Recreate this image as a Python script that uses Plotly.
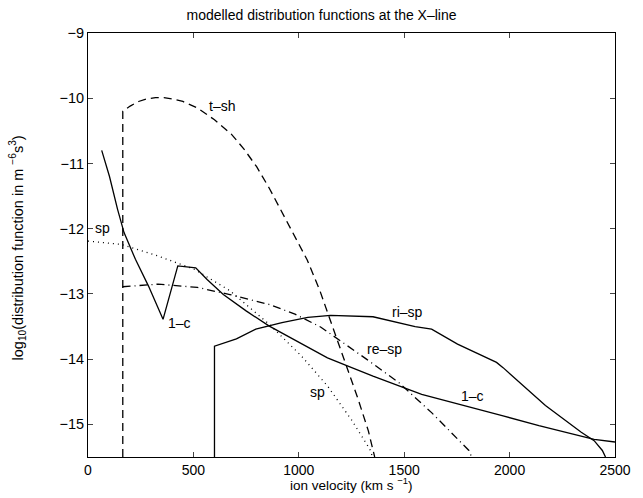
import plotly.graph_objects as go

# t-sh (dashed)
tsh_x = [165, 165, 200, 240, 280, 320, 360, 400, 450, 520, 600, 680, 740, 800, 860, 920, 980, 1040, 1100, 1160, 1220, 1280, 1330, 1360]
tsh_y = [-15.5, -10.2, -10.12, -10.05, -10.01, -9.99, -9.99, -10.01, -10.05, -10.15, -10.33, -10.55, -10.78, -11.05, -11.38, -11.75, -12.12, -12.48, -12.95, -13.5, -14.05, -14.6, -15.1, -15.5]

# 1-c (solid)
c1_x = [65, 102, 140, 171, 225, 287, 356, 426, 511, 565, 642, 750, 858, 997, 1136, 1260, 1352, 1583, 1846, 1969, 2139, 2401, 2500]
c1_y = [-10.8, -11.2, -11.7, -12.06, -12.47, -12.88, -13.39, -12.57, -12.6, -12.78, -13.01, -13.26, -13.49, -13.74, -13.98, -14.14, -14.26, -14.54, -14.76, -14.87, -15.02, -15.23, -15.27]

# sp (dotted)
sp_x = [0, 156, 333, 503, 673, 858, 1012, 1136, 1252, 1337, 1350]
sp_y = [-12.19, -12.24, -12.42, -12.62, -12.95, -13.46, -13.95, -14.41, -14.94, -15.38, -15.5]

# re-sp (dash-dot)
resp_x = [164, 333, 519, 673, 858, 982, 1105, 1198, 1321, 1475, 1630, 1807, 1820]
resp_y = [-12.89, -12.85, -12.9, -13.01, -13.16, -13.31, -13.51, -13.72, -14.0, -14.36, -14.82, -15.4, -15.5]

# ri-sp (solid)
risp_x = [600, 600, 704, 796, 920, 1043, 1151, 1352, 1552, 1630, 1753, 1938, 1969, 2170, 2340, 2401, 2440, 2455]
risp_y = [-15.5, -13.8, -13.69, -13.54, -13.44, -13.36, -13.33, -13.35, -13.5, -13.54, -13.77, -14.05, -14.13, -14.71, -15.12, -15.25, -15.4, -15.5]

lab_text = ["t\u2013sh", "1\u2013c", "sp", "sp", "ri\u2013sp", "re\u2013sp", "1\u2013c"]
lab_x = [634, 434, 71, 1089, 1514, 1406, 1823]
lab_y = [-10.12, -13.44, -11.99, -14.51, -13.28, -13.84, -14.56]

ytick_vals = [-9, -10, -11, -12, -13, -14, -15]
ytick_text = ["\u22129", "\u221210", "\u221211", "\u221212", "\u221213", "\u221214", "\u221215"]
xtick_vals = [0, 500, 1000, 1500, 2000, 2500]

title_text = "modelled distribution functions at the X\u2013line"
xlabel = "ion velocity (km s <sup>\u22121</sup>)"
ylabel = "log<sub>10</sub>(distribution function in m <sup>\u22126</sup>s<sup>3</sup>)"

fig = go.Figure()
lw = 1.3
fig.add_trace(go.Scatter(x=tsh_x, y=tsh_y, mode="lines", line=dict(color="black", width=lw, dash="8px,5px")))
fig.add_trace(go.Scatter(x=c1_x, y=c1_y, mode="lines", line=dict(color="black", width=lw)))
fig.add_trace(go.Scatter(x=sp_x, y=sp_y, mode="lines", line=dict(color="black", width=lw, dash="1px,4px")))
fig.add_trace(go.Scatter(x=resp_x, y=resp_y, mode="lines", line=dict(color="black", width=lw, dash="8px,4px,1px,4px")))
fig.add_trace(go.Scatter(x=risp_x, y=risp_y, mode="lines", line=dict(color="black", width=lw)))

for t, x, y in zip(lab_text, lab_x, lab_y):
    fig.add_annotation(x=x, y=y, text=t, showarrow=False, font=dict(size=14, color="#000000"))

# axis titles placed as paper annotations
plot_w, plot_h = 538, 424
fig.add_annotation(xref="paper", yref="paper", x=0.5, y=(457 - 484) / plot_h, text=xlabel,
                   showarrow=False, xanchor="center", yanchor="middle", font=dict(size=13.5))
fig.add_annotation(xref="paper", yref="paper", x=(16 - 88) / plot_w, y=(457 - 248) / plot_h, text=ylabel,
                   showarrow=False, textangle=-90, xanchor="center", yanchor="middle", font=dict(size=14.5))

font = "Liberation Sans, Arial, sans-serif"
fig.update_layout(
    width=643, height=498,
    margin=dict(l=88, r=17, t=33, b=41),
    paper_bgcolor="white", plot_bgcolor="white",
    showlegend=False,
    font=dict(family=font, size=14, color="black"),
    title=dict(text=title_text, x=0.5, xanchor="center",
               y=1 - 15 / 498, yanchor="middle", font=dict(size=14)),
    xaxis=dict(range=[0, 2500], tickvals=xtick_vals, ticks="inside", ticklen=5, mirror="ticks",
               showline=True, linecolor="black", linewidth=1, showgrid=False, zeroline=False,
               tickfont=dict(size=14)),
    yaxis=dict(range=[-15.5, -9], tickvals=ytick_vals, ticktext=ytick_text,
               ticks="inside", ticklen=5, mirror="ticks",
               showline=True, linecolor="black", linewidth=1, showgrid=False, zeroline=False,
               tickfont=dict(size=14.5)),
)
fig.write_html("out.html", config={"displayModeBar": False},
               post_script="document.body.style.margin='0px';document.body.style.overflow='hidden';")
